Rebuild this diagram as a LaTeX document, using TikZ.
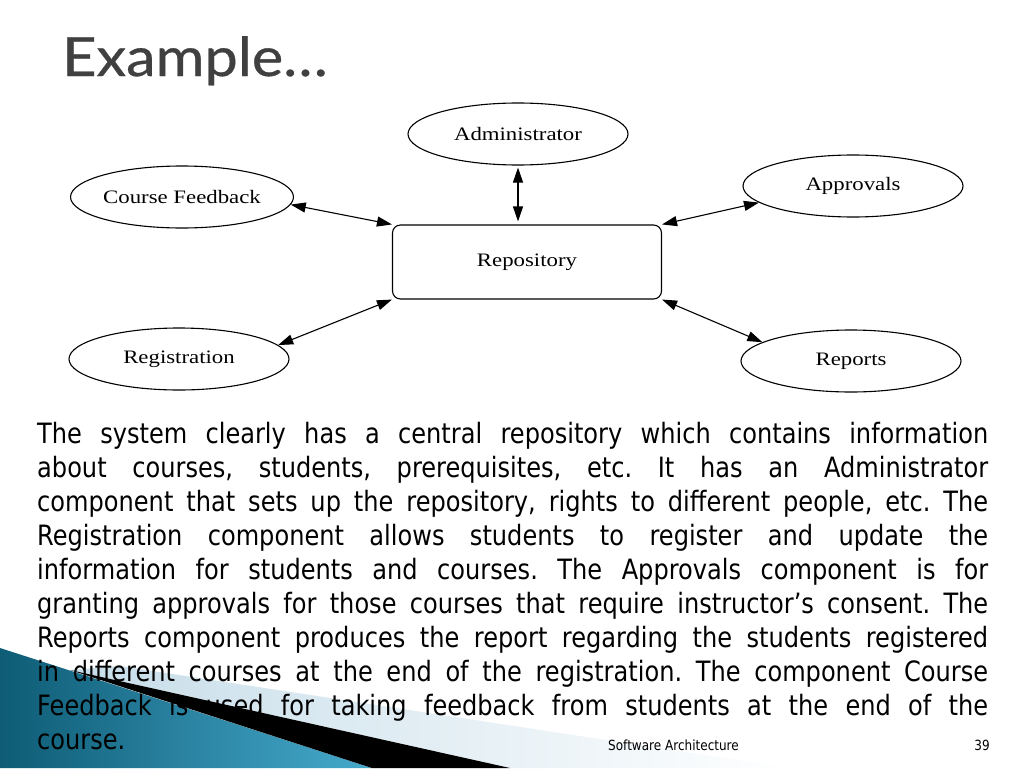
\documentclass[tikz,border=0pt]{standalone}
\usepackage{fontspec}
\setmainfont{DejaVu Sans}[FakeStretch=0.86]
\newfontfamily\diagfont{Liberation Serif}[FakeStretch=1.2]
\newfontfamily\titlefont{Lato}[FakeStretch=1.1, FakeBold=0.6]
\usetikzlibrary{arrows.meta, shapes.geometric}
\definecolor{titlegray}{RGB}{64,64,64}
\definecolor{tealdark}{RGB}{14,92,118}
\definecolor{teallight}{RGB}{70,170,204}
\definecolor{paleband}{RGB}{198,221,233}

\begin{document}
\frenchspacing
\begin{tikzpicture}[x=1pt, y=-1pt,
  comp/.style={ellipse, draw, line width=1.1pt, minimum width=220pt, minimum height=62pt,
               inner sep=0pt, font=\diagfont\fontsize{19}{22}\selectfont},
  repobox/.style={draw, rounded corners=8pt, line width=1.1pt, minimum width=269pt,
                  minimum height=74pt, font=\diagfont\fontsize{19}{22}\selectfont},
  arr/.style={{Triangle[length=15pt,width=10pt]}-{Triangle[length=15pt,width=10pt]}, line width=1.1pt},
  body/.style={anchor=north west, inner sep=0pt, text width=951pt, align=justify,
               font=\fontsize{28}{34}\selectfont},
  foot/.style={anchor=base west, inner sep=0pt, font=\fontsize{14}{16}\selectfont}
]
  \useasboundingbox (0,0) rectangle (1024,768);
  \fill[white] (0,0) rectangle (1024,768);

  % corner decoration
  \shade[left color=paleband, right color=white] (70,670) -- (120,666) -- (790,768) -- (510,768) -- cycle;
  \shade[left color=tealdark, right color=teallight] (0,648) -- (372,768) -- (0,768) -- cycle;
  \fill[black] (70,670) -- (510,768) -- (372,768) -- cycle;

  % title
  \node[anchor=base west, inner sep=0pt, text=titlegray, font=\titlefont\fontsize{54}{62}\selectfont]
    (title) at (62,76) {Example…};

  % components
  \node[comp] (admin) at (518,134) {Administrator};
  \node[comp] (fb) at (182,197) {Course Feedback};
  \node[comp] (app) at (853,186) {Approvals};
  \node[comp] (reg) at (179,359) {Registration};
  \node[comp] (rep) at (851,361) {Reports};
  \node[repobox] (repo) at (527,262) {Repository};

  \draw[arr, shorten <=2pt, shorten >=3pt] (admin.south) -- (admin.south |- repo.north);
  \draw[arr] (fb.-4) -- (repo.north west);
  \draw[arr] (app.190) -- (repo.north east);
  \draw[arr] (rep.168) -- (repo.south east);
  \draw[arr] (reg.8) -- (repo.south west);

  % description
  \node[body] (desc) at (37,422) {The system clearly has a central repository which contains information\linebreak
    about courses, students, prerequisites, etc. It has an Administrator\linebreak
    component that sets up the repository, rights to different people, etc. The\linebreak
    Registration component allows students to register and update the\linebreak
    information for students and courses. The Approvals component is for\linebreak
    granting approvals for those courses that require instructor’s consent. The\linebreak
    Reports component produces the report regarding the students registered\linebreak
    in different courses at the end of the registration. The component Course\linebreak
    Feedback is used for taking feedback from students at the end of the\linebreak
    course.};

  % footer
  \node[foot] (course) at (608,750) {Software Architecture};
  \node[foot, anchor=base east] (page) at (990,750) {39};
\end{tikzpicture}
\end{document}
